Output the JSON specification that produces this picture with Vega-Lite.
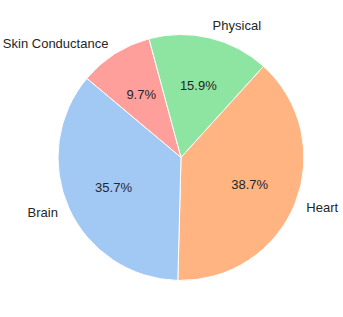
{
  "$schema": "https://vega.github.io/schema/vega-lite/v6.json",
  "width": 362,
  "height": 315,
  "autosize": "none",
  "padding": 0,
  "background": "white",
  "config": {"view": {"stroke": null}},
  "data": {
    "values": [
      {"part": "Skin Conductance", "share": 0.097, "k": 1},
      {"part": "Physical", "share": 0.159, "k": 2},
      {"part": "Heart", "share": 0.387, "k": 3},
      {"part": "Brain", "share": 0.357, "k": 4}
    ]
  },
  "encoding": {
    "theta": {
      "field": "share",
      "type": "quantitative",
      "stack": true,
      "scale": {"domain": [0, 1], "range": [-0.872665, 5.410521]}
    },
    "order": {"field": "k", "type": "quantitative"},
    "color": {
      "field": "part",
      "type": "nominal",
      "scale": {
        "domain": ["Skin Conductance", "Physical", "Heart", "Brain"],
        "range": ["#ff9f9b", "#8de5a1", "#ffb482", "#a1c9f4"]
      },
      "legend": null
    }
  },
  "layer": [
    {
      "mark": {"type": "arc", "outerRadius": 123, "stroke": "white", "strokeWidth": 1}
    },
    {
      "mark": {"type": "text", "radius": 74, "fontSize": 13, "font": "Liberation Sans", "baseline": "middle", "align": "center"},
      "encoding": {
        "text": {"field": "share", "type": "quantitative", "format": ".1%"},
        "color": {"value": "#262626"}
      }
    },
    {
      "mark": {
        "type": "text",
        "radius": 135,
        "fontSize": 13,
        "font": "Liberation Sans",
        "baseline": "middle",
        "align": {"expr": "datum.part === 'Brain' || datum.part === 'Skin Conductance' ? 'right' : 'left'"}
      },
      "encoding": {
        "text": {"field": "part", "type": "nominal"},
        "color": {"value": "#262626"}
      }
    }
  ]
}
